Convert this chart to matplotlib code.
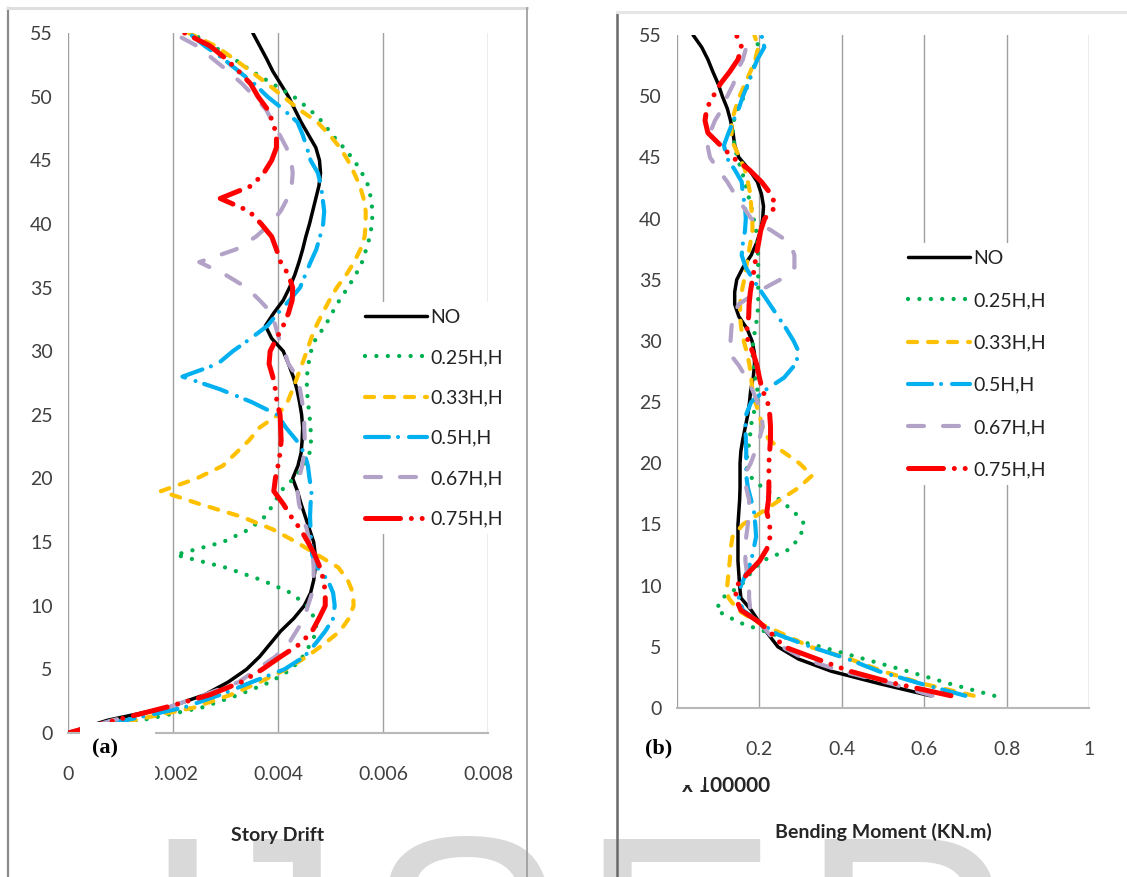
import matplotlib
matplotlib.use("Agg")
import matplotlib.pyplot as plt
from matplotlib.lines import Line2D
from matplotlib.patches import Rectangle

plt.rcParams["font.family"] = ["Lato", "DejaVu Sans"]
plt.rcParams["lines.scale_dashes"] = False

W, H = 1127, 877

# ---- data -------------------------------------------------------------
labels = ["NO", "0.25H,H", "0.33H,H", "0.5H,H", "0.67H,H", "0.75H,H"]

stories = list(range(0, 56))
moment_stories = list(range(1, 56))

story_ticks = [0, 5, 10, 15, 20, 25, 30, 35, 40, 45, 50, 55]
drift_ticks = [0, 0.002, 0.004, 0.006, 0.008]
drift_ticklabels = ["0", "0.002", "0.004", "0.006", "0.008"]
moment_ticks = [0, 0.2, 0.4, 0.6, 0.8, 1]
moment_ticklabels = ["0", "0.2", "0.4", "0.6", "0.8", "1"]

# story drift, stories 0..55
drift_no = [0, 0.00075, 0.0019, 0.0026, 0.00305, 0.0034, 0.00365, 0.00385, 0.00405, 0.0043,
            0.0045, 0.00462, 0.00468, 0.00471, 0.00471, 0.00468, 0.0046, 0.00452, 0.00444, 0.00437,
            0.00428, 0.00438, 0.00444, 0.00446, 0.00447, 0.00445, 0.00441, 0.00436, 0.00429, 0.0042,
            0.0041, 0.00388, 0.00376, 0.00392, 0.0041, 0.00422, 0.00432, 0.0044, 0.00447, 0.00453,
            0.0046, 0.00466, 0.00472, 0.00478, 0.00481, 0.00479, 0.00472, 0.00458, 0.00444, 0.00432,
            0.0042, 0.00405, 0.0039, 0.00378, 0.00365, 0.00352]
drift_025 = [0, 0.0014, 0.00255, 0.00325, 0.00385, 0.00425, 0.00447, 0.00462, 0.00474, 0.0047,
             0.00455, 0.00425, 0.0037, 0.003, 0.00205, 0.00295, 0.00345, 0.00375, 0.00392, 0.00405,
             0.0043, 0.0045, 0.0046, 0.00463, 0.00462, 0.0046, 0.00457, 0.00455, 0.00455, 0.00458,
             0.00463, 0.00472, 0.0049, 0.00503, 0.00517, 0.00533, 0.00548, 0.0056, 0.00568, 0.00575,
             0.00579, 0.0058, 0.00577, 0.00572, 0.0056, 0.00545, 0.00525, 0.00503, 0.00485, 0.0046,
             0.0043, 0.0039, 0.0035, 0.00315, 0.00275, 0.00235]
drift_033 = [0, 0.00125, 0.0024, 0.0031, 0.00365, 0.00415, 0.00455, 0.00488, 0.00518, 0.00535,
             0.00544, 0.00543, 0.00533, 0.00515, 0.00475, 0.00435, 0.0039, 0.0033, 0.0025, 0.00177,
             0.00245, 0.00295, 0.0032, 0.00345, 0.00365, 0.004, 0.00418, 0.00428, 0.00437, 0.00446,
             0.00455, 0.00463, 0.00473, 0.00485, 0.00498, 0.00512, 0.0053, 0.00545, 0.00557, 0.00565,
             0.00567, 0.00567, 0.00563, 0.00556, 0.00545, 0.00533, 0.00518, 0.00498, 0.00475, 0.0044,
             0.0041, 0.0038, 0.00348, 0.00315, 0.0028, 0.0023]
drift_05 = [0, 0.0011, 0.0022, 0.0029, 0.0035, 0.00412, 0.0045, 0.00471, 0.0049, 0.00505,
            0.00508, 0.00505, 0.00495, 0.00475, 0.00465, 0.00463, 0.00462, 0.00461, 0.00462, 0.00464,
            0.0046, 0.00457, 0.0045, 0.00435, 0.00415, 0.00399, 0.0035, 0.0029, 0.00218, 0.00285,
            0.00314, 0.00348, 0.0038, 0.004, 0.00422, 0.00442, 0.00452, 0.00462, 0.00473, 0.0048,
            0.00486, 0.00488, 0.00485, 0.00482, 0.00476, 0.00462, 0.00455, 0.00447, 0.00437, 0.0041,
            0.0038, 0.00355, 0.00325, 0.00295, 0.0026, 0.0023]
drift_067 = [0, 0.00085, 0.0019, 0.0026, 0.00325, 0.0036, 0.00395, 0.0042, 0.00435, 0.0045,
             0.00457, 0.00465, 0.00468, 0.00468, 0.00466, 0.0046, 0.00455, 0.00447, 0.0044, 0.00437,
             0.0044, 0.00446, 0.0045, 0.00451, 0.0045, 0.0045, 0.00446, 0.00442, 0.00436, 0.0042,
             0.00412, 0.00402, 0.00395, 0.00388, 0.00365, 0.0034, 0.003, 0.0025, 0.0032, 0.00358,
             0.00385, 0.00405, 0.00418, 0.00426, 0.00428, 0.00425, 0.00416, 0.00403, 0.0039, 0.00377,
             0.00355, 0.00332, 0.00305, 0.00275, 0.00245, 0.002]
drift_075 = [0, 0.0009, 0.00185, 0.0027, 0.0033, 0.0037, 0.00405, 0.00442, 0.00465, 0.00478,
             0.0049, 0.0049, 0.00487, 0.0048, 0.0047, 0.00457, 0.00443, 0.00425, 0.0041, 0.00392,
             0.00395, 0.004, 0.00404, 0.00406, 0.00405, 0.00404, 0.00398, 0.00395, 0.0039, 0.00383,
             0.00385, 0.00397, 0.0041, 0.0042, 0.00427, 0.00428, 0.0042, 0.00405, 0.00397, 0.00388,
             0.00368, 0.00345, 0.0029, 0.0035, 0.00373, 0.00388, 0.00397, 0.00397, 0.0039, 0.0038,
             0.00362, 0.00348, 0.00325, 0.003, 0.0027, 0.00222]

# bending moment (x 100000 KN.m), stories 1..55
moment_no = [0.615, 0.49, 0.375, 0.295, 0.245, 0.222, 0.2, 0.18, 0.155, 0.152,
             0.15, 0.148, 0.148, 0.148, 0.148, 0.15, 0.152, 0.153, 0.153, 0.153,
             0.155, 0.16, 0.166, 0.172, 0.176, 0.179, 0.185, 0.188, 0.188, 0.182,
             0.17, 0.15, 0.14, 0.14, 0.145, 0.16, 0.18, 0.193, 0.203, 0.208,
             0.21, 0.205, 0.195, 0.175, 0.15, 0.14, 0.136, 0.13, 0.122, 0.11,
             0.1, 0.087, 0.075, 0.06, 0.039]
moment_025 = [0.77, 0.66, 0.56, 0.455, 0.35, 0.235, 0.15, 0.095, 0.11, 0.155,
              0.178, 0.205, 0.275, 0.298, 0.31, 0.285, 0.25, 0.208, 0.175, 0.167,
              0.172, 0.177, 0.179, 0.185, 0.195, 0.195, 0.19, 0.186, 0.183, 0.185,
              0.19, 0.195, 0.197, 0.197, 0.197, 0.197, 0.197, 0.195, 0.192, 0.186,
              0.18, 0.172, 0.165, 0.156, 0.146, 0.14, 0.135, 0.138, 0.148, 0.163,
              0.172, 0.183, 0.192, 0.197, 0.192]
moment_033 = [0.72, 0.595, 0.5, 0.42, 0.323, 0.26, 0.195, 0.148, 0.125, 0.122,
              0.125, 0.128, 0.13, 0.135, 0.16, 0.205, 0.25, 0.295, 0.328, 0.297,
              0.255, 0.222, 0.207, 0.2, 0.19, 0.183, 0.18, 0.176, 0.17, 0.162,
              0.156, 0.153, 0.153, 0.157, 0.163, 0.168, 0.173, 0.178, 0.183, 0.183,
              0.18, 0.178, 0.172, 0.165, 0.152, 0.138, 0.132, 0.133, 0.142, 0.152,
              0.165, 0.178, 0.19, 0.197, 0.188]
moment_05 = [0.7, 0.59, 0.49, 0.415, 0.325, 0.245, 0.2, 0.16, 0.15, 0.155,
             0.168, 0.18, 0.186, 0.192, 0.19, 0.187, 0.18, 0.172, 0.168, 0.168,
             0.168, 0.167, 0.166, 0.168, 0.18, 0.215, 0.26, 0.285, 0.297, 0.283,
             0.265, 0.245, 0.225, 0.205, 0.185, 0.167, 0.157, 0.16, 0.165, 0.167,
             0.165, 0.16, 0.157, 0.14, 0.12, 0.114, 0.125, 0.137, 0.15, 0.16,
             0.172, 0.183, 0.195, 0.212, 0.205]
moment_067 = [0.62, 0.52, 0.4, 0.31, 0.255, 0.225, 0.2, 0.178, 0.175, 0.175,
              0.17, 0.166, 0.166, 0.168, 0.172, 0.175, 0.175, 0.168, 0.162, 0.179,
              0.19, 0.2, 0.208, 0.205, 0.195, 0.183, 0.168, 0.15, 0.127, 0.13,
              0.132, 0.135, 0.15, 0.195, 0.25, 0.285, 0.285, 0.275, 0.23, 0.18,
              0.16, 0.14, 0.122, 0.1, 0.08, 0.074, 0.08, 0.092, 0.11, 0.122,
              0.137, 0.145, 0.16, 0.168, 0.17]
moment_075 = [0.665, 0.53, 0.42, 0.34, 0.26, 0.232, 0.2, 0.155, 0.142, 0.145,
              0.172, 0.2, 0.218, 0.226, 0.225, 0.218, 0.222, 0.223, 0.223, 0.223,
              0.225, 0.227, 0.227, 0.225, 0.22, 0.207, 0.2, 0.194, 0.185, 0.172,
              0.17, 0.174, 0.175, 0.178, 0.183, 0.188, 0.192, 0.198, 0.203, 0.213,
              0.24, 0.228, 0.205, 0.175, 0.135, 0.105, 0.075, 0.068, 0.072, 0.088,
              0.105, 0.128, 0.148, 0.157, 0.144]

drift_series = [drift_no, drift_025, drift_033, drift_05, drift_067, drift_075]
moment_series = [moment_no, moment_025, moment_033, moment_05, moment_067, moment_075]

# line looks (dash lengths in points)
styles = [
    dict(color="#000000", lw=2.5, ls="-"),
    dict(color="#00b050", lw=3.1, ls=(0, (0.01, 8.2))),
    dict(color="#ffc000", lw=3.0, ls=(0, (6.5, 7.9))),
    dict(color="#00b0f0", lw=3.0, ls=(0, (17.3, 6.5, 0.01, 7.9))),
    dict(color="#b3a2c7", lw=3.0, ls=(0, (11.5, 13.7))),
    dict(color="#ff0000", lw=3.6, ls=(0, (25.2, 7.8, 0.01, 7.8, 0.01, 7.8))),
]

tick_color = "#404040"


def fx(px):
    return px / W


def fy(py):
    return 1 - py / H


fig = plt.figure(figsize=(W / 100, H / 100), dpi=100)
fig.patch.set_facecolor("white")

ax1 = fig.add_axes([fx(68), fy(733), 420 / W, 700 / H])
ax2 = fig.add_axes([fx(677), fy(708), 412 / W, 673 / H])


def draw_panel(ax, series, ys, xticks, xticklabels, xmax):
    lines = []
    for vals, st in zip(series, styles):
        ln, = ax.plot(vals, ys, color=st["color"], lw=st["lw"], linestyle=st["ls"],
                      dash_capstyle="round", solid_capstyle="round",
                      dash_joinstyle="round", solid_joinstyle="round")
        lines.append(ln)
    ax.set_xlim(0, xmax)
    ax.set_ylim(0, 55)
    ax.set_xticks(xticks)
    ax.set_xticklabels(xticklabels)
    ax.set_yticks(story_ticks)
    ax.tick_params(axis="both", length=0, labelsize=14, labelcolor=tick_color)
    ax.tick_params(axis="y", pad=11)
    ax.tick_params(axis="x", pad=24)
    ax.grid(axis="x", color="#a0a0a0", lw=1.0)
    ax.set_axisbelow(True)
    for side in ["top", "right", "left"]:
        ax.spines[side].set_visible(False)
    ax.spines["bottom"].set_color("#b8b8b8")
    ax.spines["bottom"].set_linewidth(1.5)
    return lines


lines1 = draw_panel(ax1, drift_series, stories, drift_ticks, drift_ticklabels, 0.008)
lines2 = draw_panel(ax2, moment_series, moment_stories, moment_ticks, moment_ticklabels, 1)

ax1.set_xlabel("Story Drift", fontsize=14, fontweight="bold", color="#262626")
ax1.xaxis.set_label_coords(0.5, (733 - 835) / 700)
ax1.xaxis.label.set_va("center")
ax2.set_xlabel("Bending Moment (KN.m)", fontsize=14, fontweight="bold", color="#262626")
ax2.xaxis.set_label_coords(0.5, (708 - 832) / 673)
ax2.xaxis.label.set_va("center")

legend_kw = dict(loc="upper left", bbox_transform=fig.transFigure, borderaxespad=0,
                 frameon=True, fancybox=False, facecolor="white", edgecolor="none",
                 framealpha=1, fontsize=14, handlelength=3.2, handletextpad=0.15,
                 borderpad=0.35, labelcolor="#222222")
ax1.legend(lines1, labels, bbox_to_anchor=(fx(358), fy(302)), labelspacing=1.2, **legend_kw)
ax2.legend(lines2, labels, bbox_to_anchor=(fx(901), fy(243)), labelspacing=1.3, **legend_kw)

# panel frames
frame = [
    ((8, 8), (8, 877), "#8a8a8a", 1.6),
    ((8, 527), (8, 8), "#dedede", 2.2),
    ((527, 527), (8, 877), "#9a9a9a", 1.2),
    ((617, 617), (12, 877), "#6a6a6a", 1.8),
    ((617, 1127), (12, 12), "#e6e6e6", 2.2),
]
for xs, ys, c, lw in frame:
    fig.add_artist(Line2D([fx(v) for v in xs], [fy(v) for v in ys],
                          transform=fig.transFigure, color=c, lw=lw, zorder=5))

# panel tags on white boxes
fig.add_artist(Rectangle((fx(80), fy(790)), 75 / W, 68 / H, transform=fig.transFigure,
                         facecolor="white", edgecolor="none", zorder=10))
fig.add_artist(Rectangle((fx(636), fy(785)), 68 / W, 60 / H, transform=fig.transFigure,
                         facecolor="white", edgecolor="none", zorder=10))
fig.text(fx(726), fy(786), "x 100000", fontsize=15, fontweight="bold", color="#262626",
         ha="center", va="center", zorder=9)
fig.text(fx(105), fy(748), "(a)", family="Liberation Serif", fontsize=16, fontweight="bold",
         ha="center", va="center", zorder=11)
fig.text(fx(659), fy(748), "(b)", family="Liberation Serif", fontsize=16, fontweight="bold",
         ha="center", va="center", zorder=11)

# journal watermark along the bottom
mark = dict(family="Liberation Sans", fontsize=216, color="#d9d9d9", va="top", zorder=-1)
fig.text(fx(182), fy(828), "I", ha="center", **mark)
fig.text(fx(342), fy(828), "J", ha="right", **mark)
fig.text(fx(464), fy(828), "S", ha="center", **mark)
fig.text(fx(578), fy(828), "E", ha="left", **mark)
fig.text(fx(799), fy(828), "R", ha="left", **mark)

fig.savefig("out.png", dpi=100)
